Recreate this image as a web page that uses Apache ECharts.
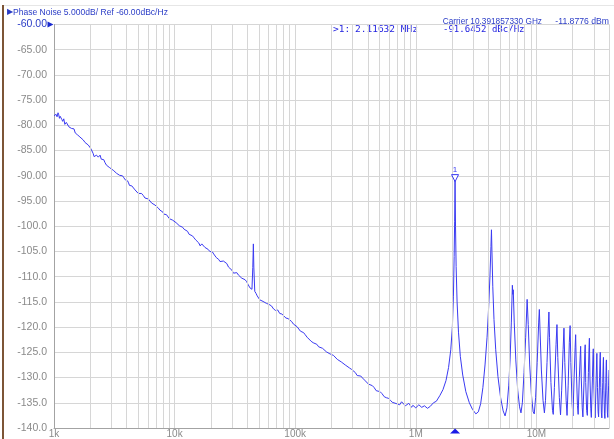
<!DOCTYPE html>
<html>
<head>
<meta charset="utf-8">
<script src="https://cdn.jsdelivr.net/npm/echarts@6/dist/echarts.min.js"></script>
<style>
html,body{margin:0;padding:0;background:#fff;}
#c{width:614px;height:439px;}
</style>
</head>
<body>
<div id="c"></div>
<script>
// Offset frequency (Hz) and phase noise (dBc/Hz), by segment
const freqA = [
1000,1020,1040,1060,1080,1095,1110,1125,1140,1160,
1180,1205,1230,1265,1300,1330,1360,1395,1430,1465,
1500,1535,1570,1605,1640,1695,1750,1810,1870,1925,
1980,2030,2080,2115,2150,2200,2250,2330,2410,2465,
2520,2585,2650,2725,2800,2900,3000,3100,3200,3300,
3400,3500,3600,3700,3800,3900,4000,4075,4150,4225,
4300,4420,4550,4700,4850,5000,5150,5320,5500,5680,
5870,6060,6250,6450,6660,6880,7100,7330,7560,7780,
8000,8160,8330,8560,8800,9050,9300,9650];
const pnA = [
-78.1,-77.9,-77.8,-78.3,-77.5,-77.9,-78.6,-78.2,-78.0,-78.8,
-79.2,-78.7,-79.8,-79.4,-79.7,-80.3,-80.1,-80.6,-80.9,-80.7,
-81.5,-81.2,-81.9,-82.0,-82.3,-82.6,-82.9,-83.4,-83.6,-83.9,
-84.3,-84.7,-85.0,-85.6,-86.2,-86.0,-85.9,-86.3,-85.9,-86.7,
-87.0,-86.8,-87.4,-87.9,-87.9,-88.4,-88.3,-88.9,-89.0,-89.5,
-89.6,-89.9,-90.2,-90.0,-90.4,-90.8,-90.9,-91.0,-91.4,-91.9,
-92.1,-92.0,-92.3,-92.8,-92.9,-93.5,-93.8,-93.5,-93.9,-94.4,
-94.5,-94.6,-94.9,-95.4,-95.5,-95.8,-96.1,-96.4,-96.8,-96.9,
-97.2,-97.6,-97.8,-97.7,-98.0,-98.5,-98.6,-98.8];

const freqB = [
10000,10300,10600,10950,11300,11650,12000,12400,12800,13200,
13600,14050,14500,14950,15400,15850,16300,16800,17300,17850,
18400,19000,19600,20100,20600,21100,21600,22150,22700,23250,
23800,24600,25400,26200,27100,28000,28900,29850,30800,31800,
32800,33900,35000,36100,37200,38400,39600,40800,42100,43000,
43800,44500,45000,45400,46200,47300,48400,49600,50900,52500,
54100,55900,57800,60700,63600,66200,68800,71600,74500,77500,
80500,83800,87200,90300,93500,96700];
const pnB = [
-99.0,-99.3,-99.4,-99.9,-100.0,-100.2,-100.6,-100.7,-101.0,-101.6,
-101.8,-101.9,-102.3,-102.7,-102.8,-103.3,-103.9,-103.5,-103.6,-104.2,
-104.5,-104.6,-105.0,-104.9,-105.1,-105.5,-105.7,-106.2,-106.3,-106.6,
-107.0,-107.2,-106.9,-107.0,-107.4,-108.1,-108.4,-108.7,-109.3,-109.0,
-109.2,-109.7,-109.8,-110.3,-110.1,-110.6,-111.0,-111.6,-112.2,-112.0,
-112.5,-108.2,-103.5,-108.1,-112.9,-113.3,-113.8,-113.7,-114.6,-114.4,
-114.9,-115.2,-115.3,-115.5,-115.8,-116.4,-116.7,-116.6,-117.3,-117.4,
-117.6,-118.2,-118.3,-118.5,-118.9,-119.4];

const freqC = [
100000,103500,107000,110500,114000,117500,121000,125500,130000,135500,
141000,146000,151000,156500,162000,168500,175000,181500,188000,194000,
200000,207500,215000,223500,232000,241000,250000,260000,270000,282000,
294000,304500,315000,326500,338000,350000,362000,376000,390000,405000,
420000,436000,452000,469500,487000,506000,525000,547500,570000,592500,
615000,637500,660000,697500,735000,762500,790000,820000,850000,875000,
900000,922500,945000,972500];
const pnC = [
-119.6,-119.9,-120.2,-120.8,-121.0,-121.1,-121.5,-122.0,-122.2,-122.8,
-123.1,-123.0,-123.4,-123.9,-124.0,-124.2,-124.3,-124.9,-125.0,-125.3,
-125.4,-125.6,-125.9,-126.4,-126.6,-126.9,-127.2,-127.5,-127.6,-128.1,
-128.4,-128.7,-129.0,-129.6,-129.8,-129.7,-130.1,-130.5,-130.7,-131.3,
-131.5,-131.6,-132.0,-132.6,-132.9,-132.8,-133.2,-133.8,-134.0,-134.1,
-134.5,-134.9,-134.9,-135.2,-135.4,-134.8,-135.0,-135.6,-135.7,-135.1,
-135.3,-135.9,-135.5,-135.2];

const freqD = [
1000000,1060000,1120000,1180000,1250000,1320000,1400000,1480000,1580000,1680000,
1780000,1870000,1950000,2010000,2050000,2080000,2100000,2116320,2135000,2160000,
2200000,2260000,2340000,2450000,2600000,2780000,2950000,3150000,3300000,3450000,
3600000,3750000,3900000,4020000,4120000,4200000,4240000,4280000,4350000,4450000,
4600000,4800000,5050000,5300000,5500000,5700000,5900000,6050000,6200000,6320000,
6380000,6430000,6550000,6750000,7000000,7250000,7450000,7650000,7900000,8150000,
8380000,8460000,8560000,8800000,9100000,9400000,9600000,9850000];
const pnD = [
-136.0,-135.4,-135.9,-135.6,-136.1,-135.7,-135.0,-134.7,-133.6,-132.4,
-130.6,-128.0,-124.5,-120.0,-114.0,-106.0,-99.0,-91.0,-100.0,-108.0,
-115.0,-121.0,-125.8,-129.5,-132.8,-135.0,-136.3,-137.2,-136.8,-135.2,
-132.0,-127.5,-122.0,-116.0,-110.0,-104.0,-100.7,-105.0,-112.0,-118.5,
-124.5,-129.8,-134.0,-136.6,-137.6,-136.0,-131.5,-126.5,-119.0,-111.7,
-113.5,-112.6,-119.0,-126.5,-132.5,-135.8,-137.0,-135.0,-129.0,-122.0,
-114.5,-114.2,-119.5,-127.5,-133.5,-136.8,-137.2,-134.0];

const freqE = [
10150000,10450000,10580000,10700000,11000000,11350000,11650000,11900000,12250000,12550000,
12700000,12850000,13200000,13600000,13800000,14100000,14550000,14810000,15050000,15500000,
15850000,16200000,16650000,16930000,17200000,17650000,17950000,18350000,18750000,19040000,
19300000,19750000,20100000,20550000,20950000,21160000,21450000,21900000,22200000,22700000,
23100000,23280000,23550000,24000000,24300000,24850000,25200000,25390000,25650000,26100000,
26450000,27000000,27330000,27510000,27800000,28250000,28550000,29150000,29480000,29630000,
29950000,30400000,30700000,31300000,31600000,31740000,32100000,32500000,32800000,33400000,
33720000,33860000,34200000,34600000,34900000,35500000,35830000,35980000,36300000,36700000,
37000000,37650000,37950000,38090000,38400000,38800000,39100000,39700000,40000000];
const pnE = [
-127.0,-119.0,-116.5,-120.0,-128.5,-134.5,-137.0,-134.5,-127.0,-120.0,
-117.0,-122.0,-131.0,-136.5,-137.3,-132.0,-123.5,-119.5,-126.0,-134.0,
-137.4,-132.5,-124.5,-120.2,-127.0,-134.5,-137.5,-131.5,-123.0,-119.7,
-127.0,-135.0,-137.6,-130.0,-124.0,-121.5,-128.5,-135.5,-137.3,-130.0,
-125.5,-123.8,-130.0,-136.0,-137.8,-130.5,-125.0,-123.5,-131.0,-136.5,
-137.5,-129.0,-124.0,-122.2,-130.0,-136.2,-137.9,-130.0,-125.5,-124.3,
-131.5,-136.5,-138.0,-130.5,-126.5,-125.2,-132.0,-136.8,-137.8,-130.0,
-126.0,-125.0,-132.0,-137.0,-138.0,-131.0,-127.0,-126.0,-132.5,-137.2,
-138.1,-131.0,-127.0,-126.5,-132.5,-137.0,-137.9,-131.5,-128.5];

// Marker 1
const markerFreq = 2116320;
const markerLevel = -91.6452;
// Tick labels
const xTickLabels = {1000:'1k',10000:'10k',100000:'100k',1000000:'1M',10000000:'10M'};

const freqHz = [].concat(freqA, freqB, freqC, freqD, freqE);
const phaseNoise = [].concat(pnA, pnB, pnC, pnD, pnE);

const blue = '#3a3af2';
const textBlue = '#2a3cc6';
const gridColor = '#d6d6d6';

// minor log grid lines (2..9 per decade)
const minorLines = [];
for (let d = 1000; d <= 10000000; d *= 10) {
  for (let m = 2; m <= 9; m++) {
    const v = d * m;
    if (v <= 40000000) minorLines.push({xAxis: v});
  }
}

const data = freqHz.map((f, i) => [f, phaseNoise[i]]);

const chart = echarts.init(document.getElementById('c'), null, {renderer: 'canvas'});
chart.setOption({
  animation: false,
  backgroundColor: '#fff',
  grid: {left: 54, right: 5, top: 24.5, bottom: 10.3, containLabel: false},
  xAxis: {
    type: 'log', logBase: 10, min: 1000, max: 40000000,
    axisLine: {show: true, lineStyle: {color: '#a3a3a3', width: 1}},
    axisTick: {show: false},
    splitLine: {show: true, lineStyle: {color: gridColor, width: 1}},
    axisLabel: {
      color: '#8a8a8a', fontSize: 10, fontFamily: 'Liberation Sans', margin: 1,
      formatter: v => xTickLabels[Math.round(v)] || ''
    }
  },
  yAxis: {
    type: 'value', min: -140, max: -60, interval: 5,
    axisLine: {show: true, lineStyle: {color: '#a3a3a3', width: 1}},
    axisTick: {show: false},
    splitLine: {show: true, lineStyle: {color: gridColor, width: 1}},
    axisLabel: {
      color: '#8a8a8a', fontSize: 10.5, fontFamily: 'Liberation Sans', margin: 7,
      formatter: v => {
        if (v === -60) return '{b|-60.00}';
        return v > -100 ? v.toFixed(2) : v.toFixed(1);
      },
      rich: {b: {color: textBlue, fontSize: 10.5, fontFamily: 'Liberation Sans'}}
    }
  },
  series: [
    {
      type: 'line', data: [], z: 1, silent: true,
      markLine: {
        silent: true, symbol: ['none', 'none'], label: {show: false},
        lineStyle: {color: gridColor, width: 1, type: 'solid'},
        emphasis: {disabled: true},
        data: minorLines
      }
    },
    {
      type: 'line', data: data, showSymbol: false, symbol: 'none', z: 3,
      lineStyle: {color: blue, width: 1},
      markPoint: {
        silent: true,
        data: [
          {coord: [markerFreq, markerLevel], symbol: 'triangle', symbolRotate: 180, symbolSize: [7, 7], symbolOffset: [0, -6],
           itemStyle: {color: '#fff', borderColor: blue, borderWidth: 1},
           label: {show: true, formatter: '1', position: 'top', distance: 0, color: blue, fontSize: 8, fontFamily: 'Liberation Sans'}},
          {coord: [markerFreq, -140], symbol: 'triangle', symbolSize: [10, 5], symbolOffset: [0, 3],
           itemStyle: {color: '#1a1ae6'}, label: {show: false}},
          {coord: [1000, -60], symbol: 'triangle', symbolRotate: -90, symbolSize: [6, 6], symbolOffset: [-3.5, 0],
           itemStyle: {color: '#1a2ad0'}, label: {show: false}}
        ]
      }
    }
  ],
  graphic: [
    {type: 'rect', shape: {x: 2, y: 5, width: 2, height: 434}, style: {fill: '#7d5536'}, silent: true},
    {type: 'rect', shape: {x: 4, y: 5, width: 610, height: 1}, style: {fill: '#e6e6e6'}, silent: true},
    {type: 'text', x: 7, y: 12, style: {text: '▶', fill: textBlue, font: '8px "DejaVu Sans"', textVerticalAlign: 'middle'}},
    {type: 'text', x: 13, y: 12, scaleX: 0.9, style: {text: 'Phase Noise 5.000dB/ Ref -60.00dBc/Hz', fill: textBlue, font: '9.5px "Liberation Sans"', textVerticalAlign: 'middle'}},
    {type: 'text', x: 542, y: 21, scaleX: 0.87, style: {text: 'Carrier 10.391857330 GHz', fill: textBlue, font: '9.5px "Liberation Sans"', textAlign: 'right', textVerticalAlign: 'middle'}},
    {type: 'text', x: 609, y: 21, scaleX: 0.91, style: {text: '-11.8776 dBm', fill: textBlue, font: '9.5px "Liberation Sans"', textAlign: 'right', textVerticalAlign: 'middle'}},
    {type: 'text', x: 333, y: 30, style: {text: '>1:', fill: '#2424e0', font: '9.5px "DejaVu Sans Mono"', textVerticalAlign: 'middle'}},
    {type: 'text', x: 355, y: 30, style: {text: '2.11632 MHz', fill: '#2424e0', font: '9.5px "DejaVu Sans Mono"', textVerticalAlign: 'middle'}},
    {type: 'text', x: 443, y: 30, scaleX: 0.95, style: {text: '-91.6452 dBc/Hz', fill: '#2424e0', font: '9.5px "DejaVu Sans Mono"', textVerticalAlign: 'middle'}}
  ]
});
</script>
</body>
</html>
